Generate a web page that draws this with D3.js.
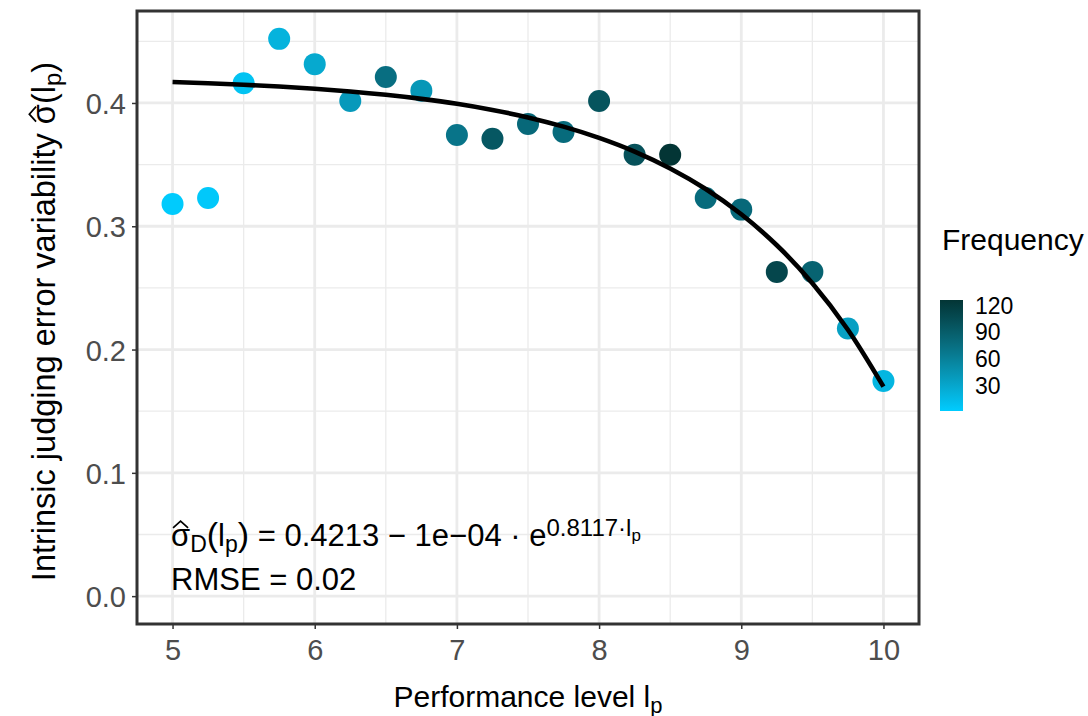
<!DOCTYPE html>
<html>
<head>
<meta charset="utf-8">
<script src="https://cdn.jsdelivr.net/npm/d3@7"></script>
<style>
  body { margin: 0; background: #fff; }
  text { font-family: "Liberation Sans", Arial, sans-serif; }
</style>
</head>
<body>
<div id="chart"></div>
<script>
// performance level l_p, estimated sigma and how many judgments fall in each level
const performance = [5, 5.25, 5.5, 5.75, 6, 6.25, 6.5, 6.75, 7, 7.25, 7.5, 7.75, 8, 8.25, 8.5, 8.75, 9, 9.25, 9.5, 9.75, 10];
const sigma = [0.318, 0.323, 0.416, 0.452, 0.4315, 0.4016, 0.421, 0.410, 0.374, 0.371, 0.383, 0.3765, 0.4016, 0.358, 0.358, 0.323, 0.3135, 0.263, 0.263, 0.217, 0.1745];
const frequency = [2, 4, 8, 20, 28, 40, 75, 42, 70, 95, 80, 78, 98, 100, 126, 78, 80, 110, 85, 35, 18];

// fitted curve
const curveLevel = [5, 5.25, 5.5, 5.75, 6, 6.25, 6.5, 6.75, 7, 7.25, 7.5, 7.75, 8, 8.25, 8.5, 8.75, 9, 9.25, 9.5, 9.75, 10];
const curveSigma = [0.4170, 0.4160, 0.4148, 0.4133, 0.4115, 0.4093, 0.4066, 0.4033, 0.3993, 0.3943, 0.3883, 0.3808, 0.3717, 0.3606, 0.3469, 0.3302, 0.3097, 0.2846, 0.2538, 0.2161, 0.1699];

const xTicks = [5, 6, 7, 8, 9, 10];
const xMinor = [5.5, 6.5, 7.5, 8.5, 9.5];
const yTicks = [0, 0.1, 0.2, 0.3, 0.4];
const yMinor = [0.05, 0.15, 0.25, 0.35, 0.45];
const legendTicks = [30, 60, 90, 120];

let W = 1088, H = 716;
let panel = { left: 137, right: 919, top: 11, bottom: 624 };

let svg = d3.select("#chart").append("svg")
  .attr("width", W)
  .attr("height", H);

let x = d3.scaleLinear().domain([4.75, 10.25]).range([panel.left, panel.right]);
let y = d3.scaleLinear().domain([-0.0226, 0.4746]).range([panel.bottom, panel.top]);

let color = d3.scaleLinear()
  .domain([1, 126])
  .range(["#00ccff", "#033535"])
  .interpolate(d3.interpolateLab);

// grid
let grid = svg.append("g");
grid.selectAll("line.xminor").data(xMinor).enter().append("line")
  .attr("x1", d => x(d)).attr("x2", d => x(d))
  .attr("y1", panel.top).attr("y2", panel.bottom)
  .attr("stroke", "#ebebeb").attr("stroke-width", 1.3);
grid.selectAll("line.yminor").data(yMinor).enter().append("line")
  .attr("y1", d => y(d)).attr("y2", d => y(d))
  .attr("x1", panel.left).attr("x2", panel.right)
  .attr("stroke", "#ebebeb").attr("stroke-width", 1.3);
grid.selectAll("line.xmajor").data(xTicks).enter().append("line")
  .attr("x1", d => x(d)).attr("x2", d => x(d))
  .attr("y1", panel.top).attr("y2", panel.bottom)
  .attr("stroke", "#ebebeb").attr("stroke-width", 2.8);
grid.selectAll("line.ymajor").data(yTicks).enter().append("line")
  .attr("y1", d => y(d)).attr("y2", d => y(d))
  .attr("x1", panel.left).attr("x2", panel.right)
  .attr("stroke", "#ebebeb").attr("stroke-width", 2.8);

// points
let pts = performance.map((p, i) => ({ p: p, s: sigma[i], f: frequency[i] }));
svg.append("g").selectAll("circle").data(pts).enter().append("circle")
  .attr("cx", d => x(d.p))
  .attr("cy", d => y(d.s))
  .attr("r", 11)
  .attr("fill", d => color(d.f));

// fitted curve
let line = d3.line()
  .x(d => x(d[0]))
  .y(d => y(d[1]))
  .curve(d3.curveCatmullRom);
svg.append("path")
  .datum(curveLevel.map((l, i) => [l, curveSigma[i]]))
  .attr("d", line)
  .attr("fill", "none")
  .attr("stroke", "#000")
  .attr("stroke-width", 4.6);

// axes
let xAxis = d3.axisBottom(x).tickValues(xTicks).tickSize(5).tickPadding(6).tickFormat(d3.format("d"));
let yAxis = d3.axisLeft(y).tickValues(yTicks).tickSize(5).tickPadding(6).tickFormat(d3.format(".1f"));

let gx = svg.append("g").attr("transform", "translate(0," + panel.bottom + ")").call(xAxis);
let gy = svg.append("g").attr("transform", "translate(" + panel.left + ",0)").call(yAxis);
[gx, gy].forEach(g => {
  g.select(".domain").remove();
  g.selectAll(".tick line").attr("stroke", "#333").attr("stroke-width", 1.5);
  g.selectAll(".tick text")
    .attr("fill", "#4d4d4d")
    .style("font-size", "29px")
    .style("font-family", "Liberation Sans, Arial, sans-serif");
});
gx.selectAll(".tick text").attr("dy", "0.85em");
gy.selectAll(".tick text").attr("dy", "0.36em");

// panel border
svg.append("rect")
  .attr("x", panel.left).attr("y", panel.top)
  .attr("width", panel.right - panel.left)
  .attr("height", panel.bottom - panel.top)
  .attr("fill", "none")
  .attr("stroke", "#333")
  .attr("stroke-width", 3);

// draws a plotmath style hat over character i of a text element
function hat(parent, textEl, i, size) {
  let b = textEl.node().getExtentOfChar(i);
  let cx = b.x + b.width / 2;
  let top = b.y + b.height * 0.28;
  parent.append("path")
    .attr("d", "M" + (cx - size) + "," + (top) + "L" + cx + "," + (top - size * 0.9) + "L" + (cx + size) + "," + top)
    .attr("fill", "none")
    .attr("stroke", "#000")
    .attr("stroke-width", 1.7);
}

// x title
let xt = svg.append("text")
  .attr("x", (panel.left + panel.right) / 2)
  .attr("y", 707)
  .attr("text-anchor", "middle")
  .style("font-size", "30px");
xt.append("tspan").text("Performance level l");
xt.append("tspan").attr("baseline-shift", "-25%").style("font-size", "22px").text("p");

// y title
let yg = svg.append("g").attr("transform", "translate(55," + ((panel.top + panel.bottom) / 2 + 4) + ") rotate(-90)");
let yt = yg.append("text")
  .attr("x", 0).attr("y", 0)
  .attr("text-anchor", "middle")
  .style("font-size", "32.5px");
yt.append("tspan").text("Intrinsic judging error variability σ(l");
yt.append("tspan").attr("baseline-shift", "-25%").style("font-size", "24px").text("p");
yt.append("tspan").text(")");
hat(yg, yt, "Intrinsic judging error variability ".length, 7.5);

// fit annotation
let ft = svg.append("text")
  .attr("x", 171)
  .attr("y", 546)
  .style("font-size", "31px");
ft.append("tspan").text("σ");
ft.append("tspan").attr("baseline-shift", "-25%").style("font-size", "23px").text("D");
ft.append("tspan").style("font-size", "34px").text("(");
ft.append("tspan").text("l");
ft.append("tspan").attr("baseline-shift", "-25%").style("font-size", "23px").text("p");
ft.append("tspan").style("font-size", "34px").text(")");
ft.append("tspan").text(" = 0.4213 − 1e−04 · e");
ft.append("tspan").attr("baseline-shift", "42%").style("font-size", "24px").text("0.8117·l");
ft.append("tspan").attr("baseline-shift", "28%").style("font-size", "17px").text("p");
hat(svg, ft, 0, 7.5);

svg.append("text")
  .attr("x", 171)
  .attr("y", 590)
  .style("font-size", "31px")
  .text("RMSE = 0.02");

// legend
svg.append("text")
  .attr("x", 942)
  .attr("y", 250)
  .style("font-size", "30px")
  .text("Frequency");

let bar = { x: 940, w: 23, top: 300, bottom: 411 };
let ly = d3.scaleLinear().domain(color.domain()).range([bar.bottom, bar.top]);

let grad = svg.append("defs").append("linearGradient")
  .attr("id", "freqgrad")
  .attr("x1", 0).attr("x2", 0).attr("y1", 1).attr("y2", 0);
grad.selectAll("stop").data(d3.range(0, 1.0001, 0.1)).enter().append("stop")
  .attr("offset", d => d)
  .attr("stop-color", d => color(1 + d * 125));

svg.append("rect")
  .attr("x", bar.x).attr("y", bar.top)
  .attr("width", bar.w).attr("height", bar.bottom - bar.top)
  .attr("fill", "url(#freqgrad)");

svg.append("g").selectAll("text").data(legendTicks).enter().append("text")
  .attr("x", 975)
  .attr("y", d => ly(d))
  .attr("dy", "0.36em")
  .style("font-size", "23px")
  .text(d => d);
</script>
</body>
</html>
